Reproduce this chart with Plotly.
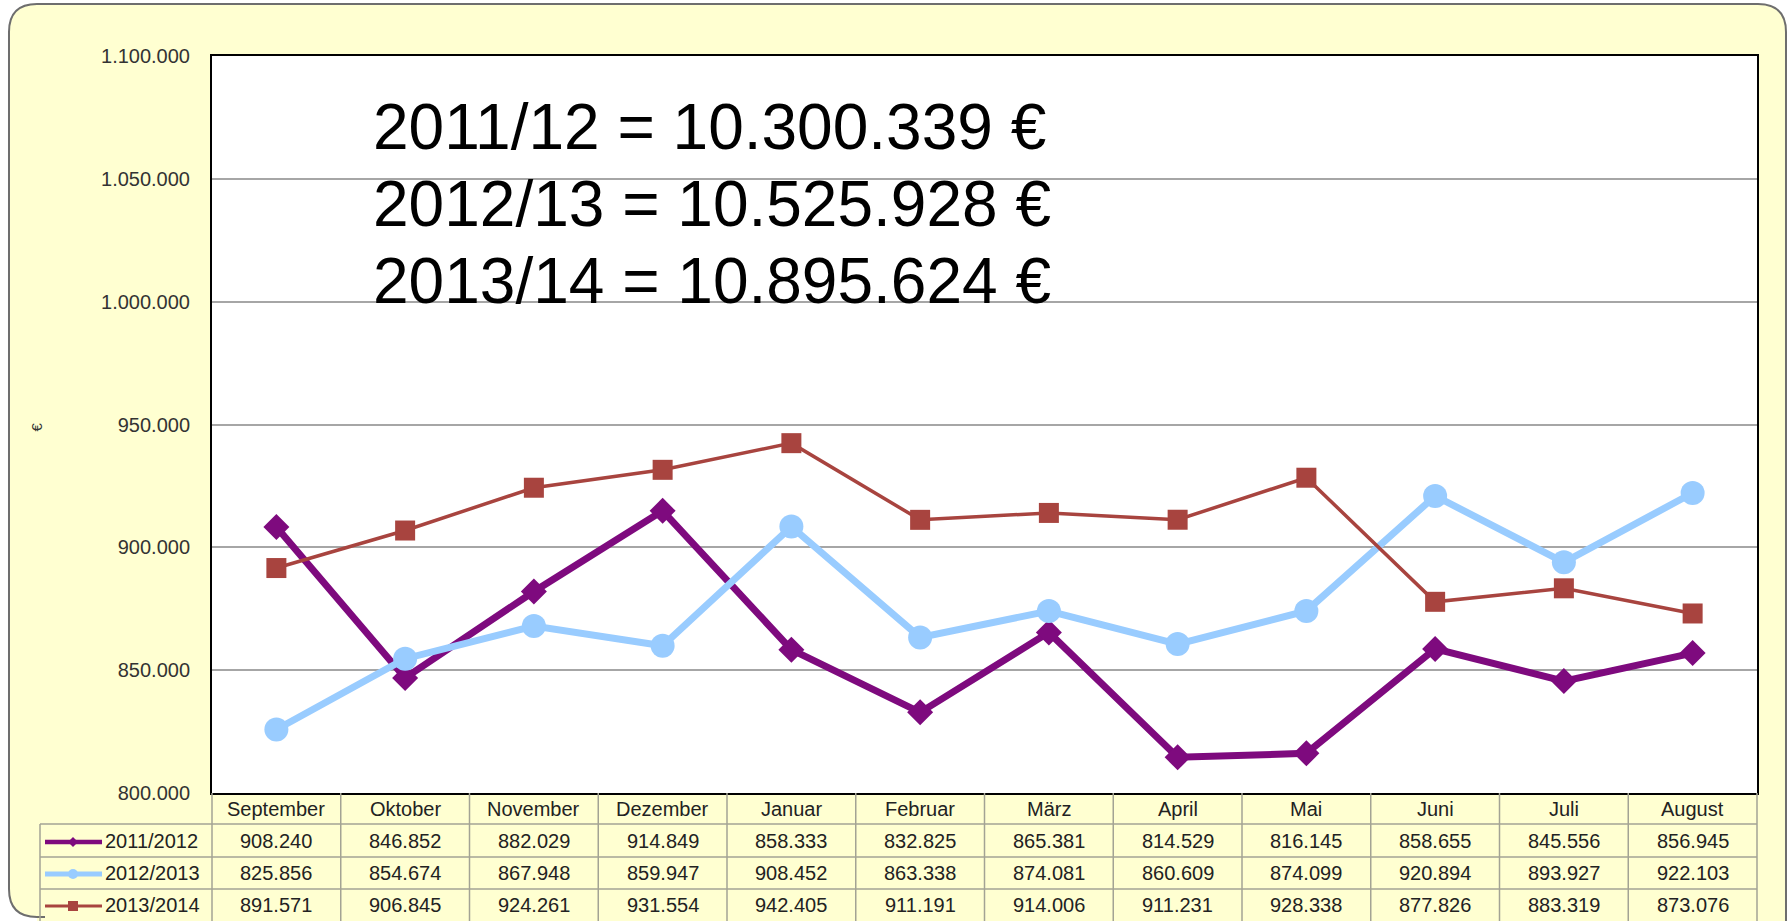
import plotly.graph_objects as go

months = ["September", "Oktober", "November", "Dezember", "Januar", "Februar",
          "März", "April", "Mai", "Juni", "Juli", "August"]
series_names = ["2011/2012", "2012/2013", "2013/2014"]
v_2011_2012 = [908240, 846852, 882029, 914849, 858333, 832825, 865381, 814529, 816145, 858655, 845556, 856945]
v_2012_2013 = [825856, 854674, 867948, 859947, 908452, 863338, 874081, 860609, 874099, 920894, 893927, 922103]
v_2013_2014 = [891571, 906845, 924261, 931554, 942405, 911191, 914006, 911231, 928338, 877826, 883319, 873076]
totals_text = ["2011/12 = 10.300.339 €", "2012/13 = 10.525.928 €", "2013/14 = 10.895.624 €"]
y_ticks = [800000, 850000, 900000, 950000, 1000000, 1050000, 1100000]

W, H = 1789, 921
L, R, T, B = 212, 1757, 56, 793
PW, PH = R - L, B - T


def px(x):
    return (x - L) / PW


def py(y):
    return (B - y) / PH


series = [v_2011_2012, v_2012_2013, v_2013_2014]
colors = ["#7E0A7E", "#99CCFF", "#A8443F"]
symbols = ["diamond", "circle", "square"]
msizes = [20, 24, 20]
lwidths = [7, 7, 3.5]

fig = go.Figure()
for name, vals, c, s, ms, lw in zip(series_names, series, colors, symbols, msizes, lwidths):
    fig.add_trace(go.Scatter(
        x=months, y=vals, name=name, mode="lines+markers",
        line=dict(color=c, width=lw),
        marker=dict(symbol=s, size=ms, color=c, line=dict(width=0)),
        showlegend=False, hoverinfo="skip"))

shapes = []
annotations = []

# panel (rounded yellow box)
x0, x1, y0, y1, r = 9, 1786, 4, 917, 28
def P(x, y):
    return f"{px(x):.6f},{py(y):.6f}"
fill_path = (f"M {P(x0 + r, y0)} L {P(x1 - r, y0)} Q {P(x1, y0)} {P(x1, y0 + r)} "
             f"L {P(x1, 925)} L {P(x0 + r, 925)} L {P(x0 + r, y1)} Q {P(x0, y1)} {P(x0, y1 - r)} "
             f"L {P(x0, y0 + r)} Q {P(x0, y0)} {P(x0 + r, y0)} Z")
shapes.append(dict(type="path", xref="paper", yref="paper", path=fill_path,
                   fillcolor="#FFFFD1", line=dict(width=0), layer="below"))
border_path = (f"M {P(45, y1)} L {P(x0 + r, y1)} Q {P(x0, y1)} {P(x0, y1 - r)} "
               f"L {P(x0, y0 + r)} Q {P(x0, y0)} {P(x0 + r, y0)} L {P(x1 - r, y0)} "
               f"Q {P(x1, y0)} {P(x1, y0 + r)} L {P(x1, 930)}")
shapes.append(dict(type="path", xref="paper", yref="paper", path=border_path,
                   line=dict(color="#6E6E6E", width=2), layer="below"))
# white plot area
shapes.append(dict(type="rect", xref="paper", yref="paper", x0=0, x1=1, y0=0, y1=1,
                   fillcolor="#FFFFFF", line=dict(width=0), layer="below"))

# data table
col_w = PW / len(months)
row_edges = [B, 824, 857, 889, 921]
tcol = "#A3A394"
for k in range(len(months) + 1):
    xx = L + k * col_w
    shapes.append(dict(type="line", xref="paper", yref="paper", x0=px(xx), x1=px(xx),
                       y0=py(B), y1=py(925), line=dict(color=tcol, width=1.5)))
shapes.append(dict(type="line", xref="paper", yref="paper", x0=px(40), x1=px(40),
                   y0=py(824), y1=py(925), line=dict(color=tcol, width=1.5)))
for yy in row_edges[1:4]:
    shapes.append(dict(type="line", xref="paper", yref="paper", x0=px(40), x1=px(R),
                       y0=py(yy), y1=py(yy), line=dict(color=tcol, width=1.5)))

tfont = dict(size=20, color="#222222", family="Liberation Sans, Arial, sans-serif")
for i, m in enumerate(months):
    annotations.append(dict(x=m, y=py(809), xref="x", yref="paper", text=m,
                            showarrow=False, font=tfont, xanchor="center", yanchor="middle"))
row_centers = [841, 873, 905]
for j, (name, vals) in enumerate(zip(series_names, series)):
    yc = row_centers[j]
    for m, v in zip(months, vals):
        txt = f"{v:,}".replace(",", ".")
        annotations.append(dict(x=m, y=py(yc), xref="x", yref="paper", text=txt,
                                showarrow=False, font=tfont, xanchor="center", yanchor="middle"))
    annotations.append(dict(x=px(103), y=py(yc), xref="paper", yref="paper", text=name,
                            showarrow=False, font=tfont, xanchor="left", yanchor="middle"))
    # legend key
    c = colors[j]
    shapes.append(dict(type="line", xref="paper", yref="paper", x0=px(45), x1=px(102),
                       y0=py(yc + 1), y1=py(yc + 1), line=dict(color=c, width=[4.5, 5, 3][j])))
    cx, cy = 73, yc + 1
    d = 5
    if j == 0:
        path = f"M {P(cx - d, cy)} L {P(cx, cy - d)} L {P(cx + d, cy)} L {P(cx, cy + d)} Z"
        shapes.append(dict(type="path", xref="paper", yref="paper", path=path,
                           fillcolor=c, line=dict(width=0)))
    elif j == 1:
        shapes.append(dict(type="circle", xref="paper", yref="paper", x0=px(cx - d), x1=px(cx + d),
                           y0=py(cy - d), y1=py(cy + d), fillcolor=c, line=dict(width=0)))
    else:
        shapes.append(dict(type="rect", xref="paper", yref="paper", x0=px(cx - d), x1=px(cx + d),
                           y0=py(cy - d), y1=py(cy + d), fillcolor=c, line=dict(width=0)))

# totals text
for i, t in enumerate(totals_text):
    annotations.append(dict(x=px(371), y=py(127.5 + i * 76.5), xref="paper", yref="paper", text=t,
                            showarrow=False, xanchor="left", yanchor="middle",
                            font=dict(size=64, color="#000000", family="Liberation Sans, Arial, sans-serif")))

annotations.append(dict(x=px(25), y=py(427), xref="paper", yref="paper", text="€", textangle=-90,
                        showarrow=False, font=dict(size=15, color="#333333")))

fig.update_layout(
    width=W, height=H,
    margin=dict(l=L, r=W - R, t=T, b=H - B, pad=0),
    paper_bgcolor="#FFFFFF", plot_bgcolor="#FFFFFF",
    separators=",.",
    font=dict(family="Liberation Sans, Arial, sans-serif", color="#333333"),
    shapes=shapes, annotations=annotations,
    xaxis=dict(type="category", range=[-0.5, len(months) - 0.5], showticklabels=False,
               showgrid=False, zeroline=False, showline=True, mirror=True,
               linecolor="#000000", linewidth=2, ticks=""),
    yaxis=dict(range=[y_ticks[0], y_ticks[-1]], tickvals=y_ticks,
               ticktext=[f"{v:,}".replace(",", ".") for v in y_ticks],
               tickfont=dict(size=20, color="#333333"), ticks="outside", ticklen=16,
               tickcolor="rgba(0,0,0,0)", showgrid=True, gridcolor="#A6A6A6", gridwidth=1.5,
               zeroline=False, showline=True, mirror=True, linecolor="#000000", linewidth=2),
)

fig.write_html("out.html", include_plotlyjs=True, config={"displayModeBar": False},
               post_script="document.body.style.margin='0';document.body.style.overflow='hidden';")
